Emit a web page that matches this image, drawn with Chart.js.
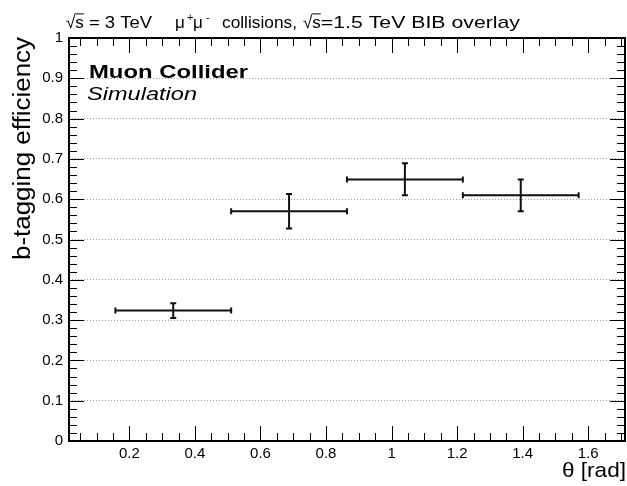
<!DOCTYPE html>
<html>
<head>
<meta charset="utf-8">
<script src="https://cdn.jsdelivr.net/npm/chart.js@4.4.1/dist/chart.umd.min.js"></script>
<style>
  body { margin: 0; background: #fff; }
  #wrap { width: 627px; height: 486px; }
</style>
</head>
<body>
<div id="wrap"><canvas id="effChart" width="627" height="486"></canvas></div>
<script>
// b-tagging efficiency vs theta, 4 bins from pi/20 to pi/2
const binLow = [0.1571, 0.5105, 0.8639, 1.2174];
const binHigh = [0.5105, 0.8639, 1.2174, 1.5708];
const thetaCenter = [0.3338, 0.6872, 1.0406, 1.3941];
const efficiency = [0.324, 0.570, 0.649, 0.610];
const errUp = [0.018, 0.043, 0.040, 0.039];
const errDown = [0.019, 0.043, 0.039, 0.040];

const xTickValues = [0.2, 0.4, 0.6, 0.8, 1.0, 1.2, 1.4, 1.6];
const yTickValues = [0, 0.1, 0.2, 0.3, 0.4, 0.5, 0.6, 0.7, 0.8, 0.9, 1.0];

const FONT = '"Liberation Sans", Arial, Helvetica, sans-serif';

// draw text squeezed/stretched to a given width (ROOT fonts run wider)
function fitText(ctx, text, x, y, w) {
    const m = ctx.measureText(text).width;
    ctx.save();
    ctx.translate(x, y);
    ctx.scale(w / m, 1);
    ctx.textAlign = 'left';
    ctx.fillText(text, 0, 0);
    ctx.restore();
}

// sqrt sign with bar over the argument
function sqrtText(ctx, arg, x, y, size) {
    ctx.font = size + 'px ' + FONT;
    const wr = ctx.measureText('√').width;
    ctx.fillText('√', x, y);
    const wa = ctx.measureText(arg).width;
    ctx.fillText(arg, x + wr, y);
    ctx.save();
    ctx.lineWidth = 1;
    ctx.strokeStyle = '#000';
    ctx.beginPath();
    ctx.moveTo(x + wr - 1, y - size * 0.86 + 0.5);
    ctx.lineTo(x + wr + wa, y - size * 0.86 + 0.5);
    ctx.stroke();
    ctx.restore();
    return wr + wa;
}

// error bars with small end caps, ROOT style
const errorBars = {
    id: 'errorBars',
    afterDatasetsDraw(chart) {
        const ctx = chart.ctx;
        const x = chart.scales.x, y = chart.scales.y;
        ctx.save();
        ctx.strokeStyle = '#111';
        ctx.lineWidth = 2;
        for (let i = 0; i < efficiency.length; i++) {
            const xl = x.getPixelForValue(binLow[i]);
            const xh = x.getPixelForValue(binHigh[i]);
            const xc = x.getPixelForValue(thetaCenter[i]);
            const yc = y.getPixelForValue(efficiency[i]);
            const yt = y.getPixelForValue(efficiency[i] + errUp[i]);
            const yb = y.getPixelForValue(efficiency[i] - errDown[i]);
            ctx.beginPath();
            ctx.moveTo(xl, yc); ctx.lineTo(xh, yc);
            ctx.moveTo(xc, yt); ctx.lineTo(xc, yb);
            ctx.stroke();
            // caps
            ctx.beginPath();
            ctx.moveTo(xl, yc - 3); ctx.lineTo(xl, yc + 3);
            ctx.moveTo(xh, yc - 3); ctx.lineTo(xh, yc + 3);
            ctx.moveTo(xc - 3, yt); ctx.lineTo(xc + 3, yt);
            ctx.moveTo(xc - 3, yb); ctx.lineTo(xc + 3, yb);
            ctx.stroke();
        }
        ctx.restore();
    }
};

// frame, inner ticks on all sides and the text labels
const frameAndText = {
    id: 'frameAndText',
    afterDraw(chart) {
        const ctx = chart.ctx;
        const a = chart.chartArea;
        const x = chart.scales.x, y = chart.scales.y;
        ctx.save();
        ctx.strokeStyle = '#000';
        ctx.lineWidth = 1;
        ctx.beginPath();
        // y ticks: major every 0.1, minor every 0.02
        for (let k = 0; k <= 50; k++) {
            const v = k * 0.02;
            const py = Math.round(y.getPixelForValue(v)) + 0.5;
            const len = (k % 5 === 0) ? 15 : 8;
            ctx.moveTo(a.left, py); ctx.lineTo(a.left + len, py);
            ctx.moveTo(a.right, py); ctx.lineTo(a.right - len, py);
        }
        // x ticks: major every 0.2, minor every 0.05
        for (let k = 1; k <= 34; k++) {
            const v = k * 0.05;
            if (v < x.min || v > x.max) continue;
            const px = Math.round(x.getPixelForValue(v)) + 0.5;
            const len = (k % 4 === 0) ? 15 : 8;
            ctx.moveTo(px, a.bottom); ctx.lineTo(px, a.bottom - len);
            ctx.moveTo(px, a.top); ctx.lineTo(px, a.top + len);
        }
        ctx.stroke();
        ctx.lineWidth = 2;
        ctx.strokeRect(a.left, a.top, a.right - a.left, a.bottom - a.top);

        ctx.fillStyle = '#000';
        ctx.textBaseline = 'alphabetic';
        ctx.textAlign = 'left';
        // experiment label
        ctx.font = 'bold 19px ' + FONT;
        fitText(ctx, 'Muon Collider', 89, 78, 159);
        ctx.font = 'italic 19px ' + FONT;
        fitText(ctx, 'Simulation', 87, 100, 110);

        // header
        const base = 28;
        const w1 = sqrtText(ctx, 's', 66, base, 17);
        ctx.font = '17px ' + FONT;
        fitText(ctx, ' = 3 TeV', 66 + w1, base, 152 - 66 - w1);
        ctx.fillText('μ', 175, base);
        ctx.fillText('μ', 193, base);
        ctx.font = '11px ' + FONT;
        ctx.fillText('+', 187, base - 7);
        ctx.fillText('-', 206, base - 7);
        ctx.font = '17px ' + FONT;
        fitText(ctx, 'collisions,', 222, base, 75);
        const w2 = sqrtText(ctx, 's', 303, base, 17);
        ctx.font = '17px ' + FONT;
        fitText(ctx, '=1.5 TeV BIB overlay', 303 + w2, base, 520 - 303 - w2);

        // axis titles
        ctx.font = '21px ' + FONT;
        fitText(ctx, 'θ [rad]', 562, 477, 64);
        ctx.save();
        ctx.translate(30, 260);
        ctx.rotate(-Math.PI / 2);
        ctx.font = '23px ' + FONT;
        fitText(ctx, 'b-tagging efficiency', 0, 0, 223);
        ctx.restore();
        ctx.restore();
    }
};

const ctx = document.getElementById('effChart').getContext('2d');
const chart = new Chart(ctx, {
    type: 'scatter',
    data: {
        datasets: [{
            label: 'b-tagging efficiency',
            data: thetaCenter.map((t, i) => ({ x: t, y: efficiency[i] })),
            pointRadius: 0,
            showLine: false
        }]
    },
    options: {
        responsive: false,
        animation: false,
        layout: { padding: { left: 0, right: 2, top: 38, bottom: 0 } },
        plugins: { legend: { display: false }, tooltip: { enabled: false } },
        scales: {
            x: {
                type: 'linear',
                min: 0.01571,
                max: 1.7122,
                afterBuildTicks: s => { s.ticks = xTickValues.map(v => ({ value: v })); },
                afterFit: s => { s.height = 45; },
                grid: { display: false, drawTicks: false },
                border: { display: false },
                ticks: {
                    color: '#000',
                    font: { family: FONT, size: 15 },
                    padding: 4,
                    maxRotation: 0,
                    autoSkip: false,
                    callback: v => String(+v.toFixed(2))
                }
            },
            y: {
                type: 'linear',
                min: 0,
                max: 1,
                afterBuildTicks: s => { s.ticks = yTickValues.map(v => ({ value: v })); },
                afterFit: s => { s.width = 69; },
                grid: { color: '#999', lineWidth: 1, drawTicks: false },
                border: { display: false, dash: [1, 2] },
                ticks: {
                    color: '#000',
                    font: { family: FONT, size: 15 },
                    padding: 6,
                    autoSkip: false,
                    callback: v => String(+v.toFixed(2))
                }
            }
        }
    },
    plugins: [errorBars, frameAndText]
});
</script>
</body>
</html>
